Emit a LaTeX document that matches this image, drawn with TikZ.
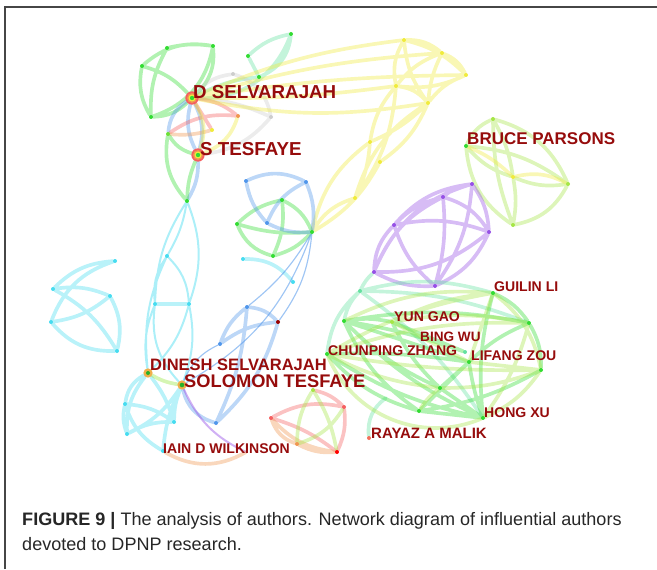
\documentclass[tikz,border=0pt]{standalone}
\usepackage{fontspec}
\setmainfont{Liberation Sans}
\usetikzlibrary{backgrounds}
\definecolor{labred}{RGB}{150,12,12}
\definecolor{vgreen}{RGB}{50,220,50}
\definecolor{vcyan}{RGB}{70,220,240}
\definecolor{vyellow}{RGB}{240,235,60}
\definecolor{vpurple}{RGB}{150,80,230}
\definecolor{vblue}{RGB}{80,150,235}
\definecolor{vred}{RGB}{245,95,95}
\definecolor{vorange}{RGB}{240,150,80}
\definecolor{vlime}{RGB}{165,230,70}
\definecolor{vmint}{RGB}{100,225,160}
\definecolor{vgray}{RGB}{205,205,205}
\definecolor{frame}{RGB}{70,70,70}
\tikzset{
  au/.style={circle, inner sep=0pt, minimum size=0.12cm, fill=#1},
  big/.style={circle, inner sep=0pt, minimum size=0.4cm, fill=vred},
  mid/.style={circle, inner sep=0pt, minimum size=0.28cm, fill=vorange!70!vyellow},
  lnk/.style={draw=#1, line width=0.11cm, draw opacity=0.38, line cap=round},
  med/.style={draw=#1, line width=0.06cm, draw opacity=0.45, line cap=round},
  thn/.style={draw=#1, line width=0.035cm, draw opacity=0.55},
  who/.style={font=\bfseries\fontsize{12}{12}\selectfont, text=labred, inner sep=0pt, anchor=west},
}
\begin{document}
\begin{tikzpicture}[x=0.03cm, y=-0.03cm]
    \useasboundingbox (0,0) rectangle (657,569);
    \draw[frame, line width=0.05cm] (5,569) -- (5,7) -- (657,7);
    % authors
    \node[big] (ds) at (192,98) {};
    \node[big] (st) at (198,155) {};
    \node[mid] (dsl) at (148,373) {};
    \node[mid] (ts) at (182,385) {};
    \node[au=vgreen] (a1) at (167,48) {};
    \node[au=vgreen] (a2) at (213,46) {};
    \node[au=vgreen] (a3) at (142,66) {};
    \node[au=vgreen] (a4) at (151,117) {};
    \node[au=vgreen] (b1) at (291,34) {};
    \node[au=vgreen] (b2) at (248,56) {};
    \node[au=vgreen] (b3) at (259,77) {};
    \node[au=vgray] (w1) at (233,74) {};
    \node[au=vgray] (w2) at (271,117) {};
    \node[au=vorange] (o1) at (238,116) {};
    \node[au=vyellow] (o2) at (212,130) {};
    \node[au=vgreen!70!vyellow] (gn) at (168,134) {};
    \node[au=vgreen] (c1) at (187,201) {};
    \node[au=vcyan] (c2) at (167,256) {};
    \node[au=vcyan] (c3) at (155,304) {};
    \node[au=vcyan] (c4) at (189,304) {};
    \node[au=vyellow] (y1) at (404,40) {};
    \node[au=vyellow] (y2) at (442,53) {};
    \node[au=vyellow] (y3) at (466,75) {};
    \node[au=vyellow] (y4) at (396,86) {};
    \node[au=vyellow] (y5) at (428,103) {};
    \node[au=vyellow] (y6) at (370,142) {};
    \node[au=vyellow] (y7) at (380,162) {};
    \node[au=vyellow] (y8) at (355,198) {};
    \node[au=vgreen] (h) at (312,232) {};
    \node[au=vgreen] (m1) at (282,200) {};
    \node[au=vgreen] (m2) at (237,224) {};
    \node[au=vgreen] (m3) at (273,256) {};
    \node[au=vblue] (bl1) at (246,181) {};
    \node[au=vblue] (bl2) at (306,182) {};
    \node[au=vblue] (bl3) at (267,223) {};
    \node[au=vcyan] (e1) at (243,259) {};
    \node[au=vcyan] (e2) at (293,282) {};
    \node[au=vgreen] (bp) at (466,146) {};
    \node[au=vlime] (p1) at (493,119) {};
    \node[au=vyellow] (p2) at (513,177) {};
    \node[au=vlime] (p3) at (568,184) {};
    \node[au=vlime] (p4) at (513,225) {};
    \node[au=vpurple] (u1) at (472,184) {};
    \node[au=vpurple] (u2) at (443,197) {};
    \node[au=vpurple] (u3) at (394,225) {};
    \node[au=vpurple] (u4) at (489,232) {};
    \node[au=vpurple] (u5) at (374,272) {};
    \node[au=vpurple] (u6) at (435,286) {};
    \node[au=vmint] (g1) at (360,291) {};
    \node[au=vgreen] (gl) at (493,293) {};
    \node[au=vgreen] (g2) at (344,321) {};
    \node[au=vlime] (yg) at (392,322) {};
    \node[au=vgreen] (g3) at (529,323) {};
    \node[au=vgreen] (cz) at (327,354) {};
    \node[au=vmint] (bw) at (465,352) {};
    \node[au=vgreen] (lz) at (469,362) {};
    \node[au=vgreen] (g4) at (541,370) {};
    \node[au=vgreen] (g5) at (440,388) {};
    \node[au=vgreen] (g6) at (419,411) {};
    \node[au=vgreen] (hx) at (483,418) {};
    \node[au=vred!70!vorange] (rm) at (369,438) {};
    \coordinate (rt) at (386,398);
    \node[au=vcyan] (l1) at (115,261) {};
    \node[au=vcyan] (l2) at (53,289) {};
    \node[au=vcyan] (l3) at (110,296) {};
    \node[au=vcyan] (l4) at (51,322) {};
    \node[au=vcyan] (l5) at (117,351) {};
    \node[au=vblue] (k1) at (247,307) {};
    \node[au=red!60!black] (k2) at (278,322) {};
    \node[au=vblue] (k3) at (220,344) {};
    \node[au=vblue] (k4) at (216,423) {};
    \node[au=vcyan] (q1) at (125,404) {};
    \node[au=vcyan] (q2) at (127,434) {};
    \node[au=vcyan] (q3) at (174,422) {};
    \node[au=vcyan] (iw) at (163,451) {};
    \coordinate (ow) at (246,452);
    \node[au=vlime] (r1) at (313,390) {};
    \node[au=vred] (r2) at (344,407) {};
    \node[au=vred] (r3) at (271,418) {};
    \node[au=vorange] (r4) at (297,444) {};
    \node[au=red] (r5) at (337,452) {};
    % rings of the large nodes
    \fill[vorange] (ds) circle (0.15cm) (st) circle (0.15cm);
    \fill[vyellow] (ds) circle (0.105cm) (st) circle (0.105cm);
    \fill[vgreen] (ds) circle (0.065cm) (st) circle (0.065cm);
    \fill[vgreen!80!black] (dsl) circle (0.06cm) (ts) circle (0.07cm);
    % links
    \begin{scope}[on background layer]
    \draw[lnk=vgreen] (a3) to[bend left=25] (a2) (a1) to[bend left=10] (a2) (a1) to[bend right=15] (a4)
        (a3) to[bend right=20] (a4) (a2) to[bend left=30] (a4) (a2) to[bend left=25] (ds)
        (a4) to[bend right=20] (ds) (a3) to[bend left=15] (ds);
    \draw[lnk=vmint] (b2) to[bend left=15] (b1) (b2) -- (b3) (b1) to[bend left=30] (b3)
        (b1) to[bend left=35] (ds) (b3) to[bend right=10] (ds);
    \draw[lnk=vgray] (ds) to[bend left=20] (w1) (w1) to[bend left=30] (w2) (st) to[bend right=20] (w2)
        (ds) to[bend left=10] (w2);
    \draw[lnk=vblue] (ds) to[bend left=20] (st) (ds) to[bend right=20] (st) (ds) to[bend right=25] (gn)
        (st) to[bend left=15] (c1);
    \draw[lnk=vred] (ds) to[bend left=15] (o1) (gn) to[bend left=20] (o1) (ds) to (o2);
    \draw[lnk=vorange] (gn) to[bend right=10] (o2);
    \draw[lnk=vyellow] (st) to[bend right=25] (o1) (ds) to[bend left=25] (st);
    \draw[lnk=vgreen] (gn) to[bend right=20] (st) (gn) to[bend right=25] (c1) (st) to[bend right=10] (c1);
    \draw[lnk=vyellow] (ds) to[bend left=8] (y1) (ds) to[bend left=6] (y2) (ds) to[bend left=4] (y3)
        (ds) to[bend right=4] (y4) (ds) to[bend right=10] (y5) (y1) to[bend left=20] (y2)
        (y1) to[bend left=15] (y3) (y1) to[bend right=20] (y4) (y1) to[bend right=15] (y5)
        (y2) to[bend left=20] (y3) (y2) to[bend right=15] (y4) (y2) to[bend right=10] (y5)
        (y3) to[bend left=15] (y4) (y3) to[bend right=15] (y5) (y4) to[bend left=20] (y5)
        (y4) to[bend right=15] (y6) (y4) to[bend left=15] (y8) (y5) to[bend left=10] (y6)
        (y5) to[bend left=15] (y7) (y5) to[bend right=20] (y8) (y6) to[bend right=20] (h)
        (y7) to[bend left=15] (h) (y8) to[bend right=20] (h) (y6) to[bend left=10] (y8);
    \draw[lnk=vgreen] (m2) to[bend left=15] (m1) (m2) to[bend right=10] (h) (m2) to[bend right=25] (m3)
        (m1) to[bend left=15] (m3) (m1) to[bend left=20] (h) (m3) to[bend right=15] (h);
    \draw[lnk=vblue] (bl1) to[bend left=25] (bl2) (bl1) to[bend right=15] (bl3) (bl2) to[bend left=15] (h)
        (bl2) to[bend right=20] (bl3) (bl3) to[bend right=15] (h);
    \draw[lnk=vcyan] (e1) to[bend left=25] (e2);
    \draw[thn=vblue] (h) to[bend left=15] (k2) (h) to[bend left=10] (k1) (h) to[bend left=20] (ts);
    \draw[med=vcyan] (c1) to[bend left=10] (c2) (c1) to[bend left=20] (c4) (c1) to[bend right=15] (c3)
        (c2) to[bend right=20] (c3) (c2) to[bend left=20] (c4) (c2) to[bend right=15] (dsl)
        (c3) to[bend right=15] (dsl) (c4) to[bend left=15] (dsl) (c4) to[bend left=15] (ts)
        (c3) to[bend right=25] (ts);
    \draw[lnk=vcyan] (c3) -- (c4);
    \draw[lnk=vcyan] (l1) to[bend right=20] (l2) (l1) to[bend right=25] (l4) (l2) to[bend left=15] (l3)
        (l2) to[bend left=15] (l5) (l4) to[bend right=15] (l3) (l4) to[bend right=25] (l5)
        (l3) to[bend left=20] (l5);
    \draw[lnk=vblue] (k1) to[bend left=20] (k2) (k1) to[bend right=15] (k3) (k3) to[bend left=15] (k2)
        (k1) to[bend left=10] (k4) (k2) to[bend left=15] (k4) (ts) to[bend right=30] (k4);
    \draw[thn=vblue] (ts) to[bend left=20] (k3);
    \draw[lnk=vcyan] (dsl) to[bend right=25] (q1) (dsl) to[bend right=20] (q2) (dsl) to[bend left=10] (q3)
        (q1) to[bend right=15] (q2) (q1) to[bend left=15] (q3) (q2) to[bend left=15] (q3)
        (ts) to[bend right=10] (q3) (ts) to[bend right=10] (iw) (ts) to[bend left=15] (q2)
        (q1) to[bend right=20] (iw);
    \draw[lnk=vgreen!50!vyellow] (dsl) to[bend right=10] (ts);
    \draw[med=vpurple] (ts) to[bend right=20] (ow);
    \draw[lnk=vorange] (iw) to[bend right=30] (ow);
    \draw[lnk=vred] (r3) to[bend left=20] (r2) (r1) to[bend left=15] (r2) (r2) to[bend left=15] (r5)
        (r3) to[bend left=10] (r5);
    \draw[lnk=vorange] (r3) to[bend right=25] (r4) (r3) to[bend right=20] (r5) (r4) to[bend right=15] (r5);
    \draw[lnk=vlime] (r1) to[bend left=10] (r5) (r1) to[bend right=15] (r4) (r4) to[bend right=20] (r2);
    \draw[lnk=vlime] (bp) to[bend left=20] (p1) (p1) to[bend left=25] (p3) (bp) to[bend right=15] (p2)
        (bp) to[bend left=15] (p3) (bp) to[bend right=25] (p4) (p1) to[bend left=10] (p2)
        (p1) to[bend right=10] (p4) (p2) to[bend right=15] (p3) (p2) to[bend left=10] (p4)
        (p3) to[bend left=25] (p4);
    \draw[lnk=vyellow] (p2) to[bend left=20] (p3) (bp) to[bend left=10] (p2);
    \draw[lnk=vpurple] (u1) to[bend right=15] (u2) (u1) to[bend right=20] (u3) (u1) to[bend left=15] (u4)
        (u1) to[bend right=25] (u5) (u1) to[bend left=15] (u6) (u2) to[bend right=15] (u3)
        (u2) to[bend left=20] (u4) (u2) to[bend right=20] (u5) (u2) to[bend left=10] (u6)
        (u3) to[bend left=15] (u4) (u3) to[bend right=20] (u5) (u3) to[bend right=15] (u6)
        (u4) to[bend left=20] (u5) (u4) to[bend left=20] (u6) (u5) to[bend right=15] (u6);
    \draw[lnk=vmint] (g1) to[bend left=15] (gl) (g1) to[bend right=15] (g2) (g1) to[bend right=20] (cz)
        (g1) to[bend left=10] (g3) (g1) to[bend left=10] (hx) (u5) to[bend right=10] (g1)
        (rm) to[bend left=30] (rt);
    \draw[lnk=vgreen] (g2) to[bend left=10] (yg) (g2) to[bend left=10] (g3) (g2) to (lz)
        (g2) to[bend right=15] (g6) (g2) to[bend right=10] (hx) (g2) to[bend right=10] (g5)
        (yg) to (bw) (cz) to[bend left=5] (lz) (cz) to[bend right=15] (g6) (cz) to[bend right=10] (hx)
        (lz) to[bend left=10] (g3) (lz) to (g6) (lz) to[bend right=5] (hx) (gl) to[bend right=10] (hx)
        (g3) to[bend left=15] (g4) (g4) to[bend left=10] (g6) (g5) to (hx) (g6) to (hx)
        (lz) to (g5) (gl) to[bend left=15] (g3) (yg) to[bend right=10] (g5) (g2) to[bend left=5] (bw);
    \draw[lnk=vlime] (gl) to[bend right=10] (yg) (gl) to[bend right=15] (g2) (gl) to[bend right=10] (cz)
        (gl) to[bend left=20] (g4) (gl) to (lz) (yg) to[bend left=10] (g3) (yg) to (lz)
        (cz) to[bend left=10] (g3) (cz) to[bend right=5] (g4) (cz) to[bend right=10] (g5)
        (lz) to (g4) (g3) to[bend left=10] (hx) (g4) to[bend left=15] (hx) (g5) to[bend right=10] (g6)
        (g4) to[bend left=10] (g5) (cz) to[bend right=45] (hx);
    \end{scope}
    % names
    \node[who, font=\bfseries\fontsize{16}{16}\selectfont] (ds-t) at (193,92) {D SELVARAJAH};
    \node[who, font=\bfseries\fontsize{16}{16}\selectfont] (st-t) at (200,149) {S TESFAYE};
    \node[who, font=\bfseries\fontsize{14.5}{14.5}\selectfont] (bp-t) at (467,139) {BRUCE PARSONS};
    \node[who] (gl-t) at (494,287) {GUILIN LI};
    \node[who] (yg-t) at (394,317) {YUN GAO};
    \node[who, font=\bfseries\fontsize{11.6}{11.6}\selectfont] (bw-t) at (420,337) {BING WU};
    \node[who] (cz-t) at (328,351) {CHUNPING ZHANG};
    \node[who] (lz-t) at (471,356) {LIFANG ZOU};
    \node[who] (hx-t) at (484,413) {HONG XU};
    \node[who, font=\bfseries\fontsize{12.8}{12.8}\selectfont] (rm-t) at (371,433) {RAYAZ A MALIK};
    \node[who, font=\bfseries\fontsize{14.1}{14.1}\selectfont] (dsl-t) at (150,365) {DINESH SELVARAJAH};
    \node[who, font=\bfseries\fontsize{15.6}{15.6}\selectfont] (ts-t) at (184,381) {SOLOMON TESFAYE};
    \node[who] (iw-t) at (163,449) {IAIN D WILKINSON};
    % caption
    \node[anchor=base west, inner sep=0pt, font=\fontsize{15.4}{18}\selectfont, text=black!85] (cap1) at (22,525)
        {\textbf{FIGURE 9 |} The analysis of authors. Network diagram of influential authors};
    \node[anchor=base west, inner sep=0pt, font=\fontsize{15.4}{18}\selectfont, text=black!85] (cap2) at (22,550)
        {devoted to DPNP research.};
\end{tikzpicture}
\end{document}
